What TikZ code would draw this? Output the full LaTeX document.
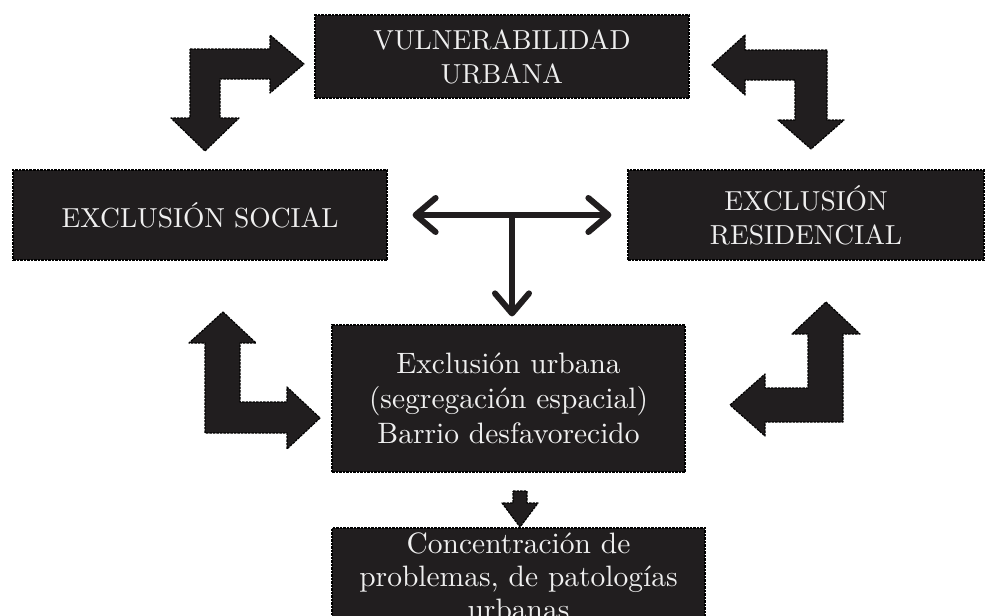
\documentclass[tikz,border=0pt]{standalone}
\usepackage{fontspec}
\setmainfont{lmroman10-regular}[Extension=.otf]
\usetikzlibrary{arrows.meta}
\definecolor{boxfill}{HTML}{211E1F}
\definecolor{boxtext}{HTML}{EFEFEF}
\tikzset{
  darkbox/.style={rectangle, fill=boxfill, draw=black, line width=1.2pt,
    dash pattern=on 2.5pt off 1pt, text=boxtext, align=center, inner sep=0pt},
  capstext/.style={font=\fontsize{27.5}{34}\selectfont},
  lowtext/.style={font=\fontsize{29.5}{35}\selectfont},
  bigarrow/.style={fill=boxfill, draw=black, line width=1.2pt, dash pattern=on 2.5pt off 1pt, line join=round},
  barbline/.style={draw=boxfill, line width=6pt,
    {Straight Barb[length=20pt,width=34pt,line cap=round,line join=round]}-{Straight Barb[length=20pt,width=34pt,line cap=round,line join=round]}},
  downbarb/.style={draw=boxfill, line width=6pt,
    -{Straight Barb[length=20pt,width=34pt,line cap=round,line join=round]}},
}
\begin{document}
\begin{tikzpicture}[x=1pt,y=-1pt]
\clip (0,0) rectangle (989,616);
\fill[white] (0,0) rectangle (989,616);

% boxes
\node[darkbox, capstext, minimum width=374pt, minimum height=83pt] (vul) at (502,56.5) {VULNERABILIDAD\\URBANA};
\node[darkbox, capstext, minimum width=374pt, minimum height=90pt] (soc) at (200,215) {EXCLUSIÓN SOCIAL};
\node[darkbox, capstext, minimum width=356pt, minimum height=90pt] (res) at (806,215) {EXCLUSIÓN\\RESIDENCIAL};
\node[darkbox, lowtext, minimum width=353pt, minimum height=147pt] (urb) at (508.5,398.5) {Exclusión urbana\\(segregación espacial)\\Barrio desfavorecido};
\node[darkbox, font=\fontsize{29.5}{33}\selectfont, minimum width=373pt, minimum height=97pt] (conc) at (518.5,576.5) {Concentración de\\problemas, de patologías\\urbanas};

% L-shaped block arrows
\draw[bigarrow] (190,49) -- (270,49) -- (270,35) -- (304,64) -- (270,93) -- (270,79)
  -- (220,79) -- (220,118) -- (239,118) -- (205,151) -- (171,118) -- (190,118) -- cycle;
\draw[bigarrow] (827,50) -- (745,50) -- (745,35) -- (712,65) -- (745,95) -- (745,80)
  -- (795,80) -- (795,120) -- (778,120) -- (811,149) -- (844,120) -- (827,120) -- cycle;
\draw[bigarrow] (223,312) -- (256,343) -- (240,343) -- (240,402) -- (287,402) -- (287,387)
  -- (320,418) -- (287,449) -- (287,433) -- (205,433) -- (205,343) -- (189,343) -- cycle;
\draw[bigarrow] (826,302) -- (860,334) -- (843,334) -- (843,422) -- (765,422) -- (765,436)
  -- (730,405) -- (765,374) -- (765,388) -- (808,388) -- (808,334) -- (792,334) -- cycle;

% T-shaped connector
\coordinate (tj) at (512,213);
\draw[barbline, shorten <=25pt, shorten >=16pt] (soc.east) -- (res.west);
\draw[downbarb, shorten >=8pt] (tj) -- (tj |- urb.north);

% small down arrow
\draw[bigarrow] (513,491) -- (527,491) -- (527,503) -- (538,503) -- (520,527) -- (502,503) -- (513,503) -- cycle;
\end{tikzpicture}
\end{document}
